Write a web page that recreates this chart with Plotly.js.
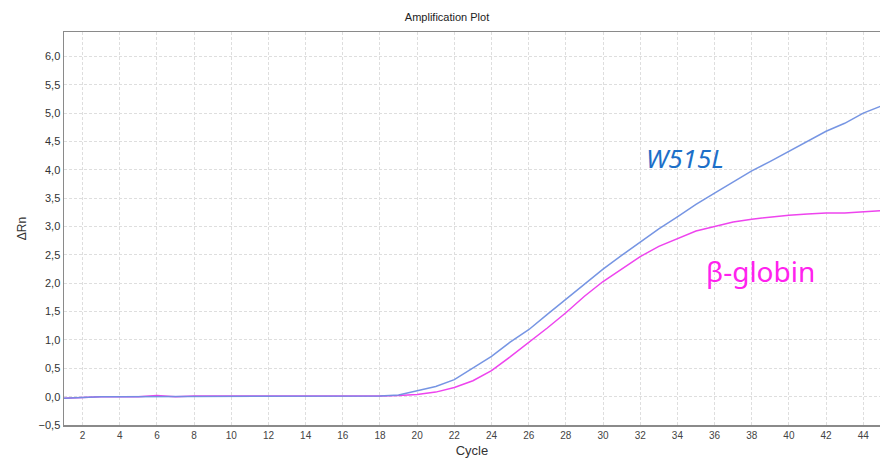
<!DOCTYPE html>
<html><head><meta charset="utf-8">
<script src="https://cdn.plot.ly/plotly-3.0.1.min.js"></script>
<style>html,body{margin:0;padding:0;background:#fff;}#chart{width:880px;height:459px;}</style>
</head><body><div id="chart"></div>
<script>
const cycles = [1,2,3,4,5,6,7,8,9,10,11,12,13,14,15,16,17,18,19,20,21,22,23,24,25,26,27,28,29,30,31,32,33,34,35,36,37,38,39,40,41,42,43,44,45];
const w515l = [-0.03,-0.01,0,0,0,0,0,0,0,0,0,0,0,0,0,0,0,0.01,0.03,0.1,0.18,0.3,0.5,0.71,0.96,1.18,1.45,1.72,1.99,2.25,2.49,2.72,2.96,3.17,3.39,3.59,3.79,3.98,4.15,4.33,4.5,4.68,4.82,5.0,5.13];
const betaGlobin = [-0.03,-0.01,0,0,0,0.02,0,0.01,0.01,0.01,0,0,0,0,0,0,0.01,0.01,0.02,0.04,0.08,0.16,0.28,0.46,0.7,0.95,1.21,1.48,1.77,2.03,2.25,2.47,2.65,2.79,2.92,3.0,3.08,3.13,3.17,3.2,3.22,3.24,3.24,3.26,3.28];
const xTicks = [2,4,6,8,10,12,14,16,18,20,22,24,26,28,30,32,34,36,38,40,42,44];
const yTicks = [-0.5,0,0.5,1,1.5,2,2.5,3,3.5,4,4.5,5,5.5,6];
const labels = [{text:'W515L', x:32.2, y:4.21, color:'#1d6fc8', italic:true, size:26},
                {text:'β-globin', x:35.45, y:2.21, color:'#ff22ee', italic:false, size:28}];

const traces = [
  {x:cycles, y:betaGlobin, type:'scatter', mode:'lines', name:'β-globin', line:{color:'#ee44ee', width:1.5}},
  {x:cycles, y:w515l, type:'scatter', mode:'lines', name:'W515L', line:{color:'#6f8fe2', width:1.5}, opacity:0.95}
];
const layout = {
  width:880, height:459,
  margin:{l:64, r:0, t:32, b:34},
  paper_bgcolor:'#fff', plot_bgcolor:'#fff',
  separators:', ',
  showlegend:false,
  font:{family:'Liberation Sans, Arial, sans-serif', size:10, color:'#333'},
  title:{text:'Amplification Plot', x:0.508, xanchor:'center', y:0.962, yanchor:'middle', font:{size:11, color:'#222'}},
  xaxis:{range:[1,44.9], tickvals:xTicks, ticktext:xTicks.map(String), showgrid:true, gridcolor:'#dedede', griddash:'3px,2px', gridwidth:1,
    showline:true, linecolor:'#8a8a8a', linewidth:1.5, mirror:true, zeroline:false, ticks:'', ticklen:0,
    tickfont:{size:10, color:'#444'},
    title:{text:'Cycle', standoff:6, font:{size:13, color:'#333'}}},
  yaxis:{range:[-0.5,6.43], tickvals:yTicks, tickformat:'.1f', showgrid:true, gridcolor:'#dedede', griddash:'3px,2px', gridwidth:1,
    showline:true, linecolor:'#8a8a8a', linewidth:1.5, zeroline:false, ticks:'',
    tickfont:{size:11, color:'#333'},
    title:{text:'ΔRn', standoff:9, font:{size:12, color:'#333'}}},
  annotations: labels.map(l => ({text: l.italic ? '<i>'+l.text+'</i>' : l.text, x:l.x, y:l.y, xref:'x', yref:'y', xanchor:'left', yanchor:'middle', showarrow:false,
    font:{family:'Noto Sans, sans-serif', size:l.size, color:l.color}}))
};
Plotly.newPlot('chart', traces, layout, {displayModeBar:false, staticPlot:true});
</script></body></html>
